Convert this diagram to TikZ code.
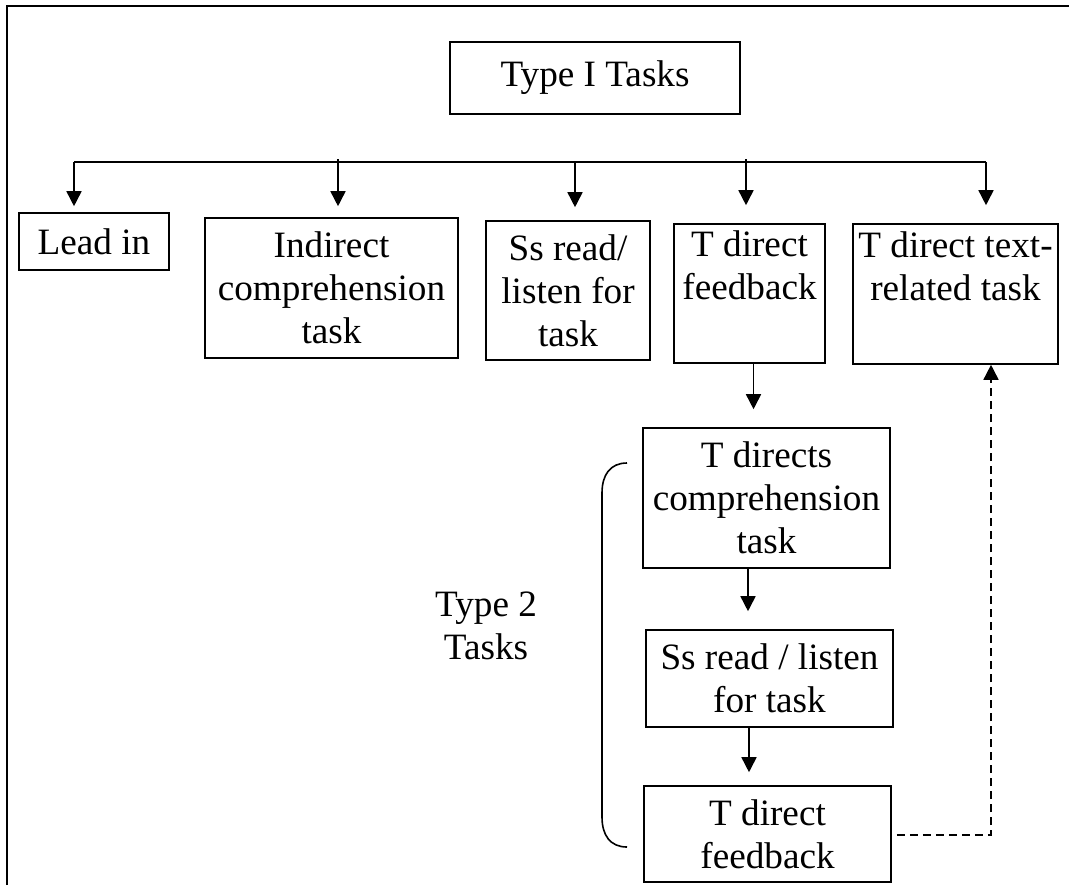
\documentclass[tikz,border=0pt]{standalone}
\usepackage{fontspec}
\setmainfont{Liberation Serif}
\usepackage{tikz}
\usetikzlibrary{arrows.meta, positioning, calc}
\newcommand{\taskfont}{\fontsize{18.6}{21.5}\selectfont}
\tikzset{every node/.append style={align=center}}
\tikzset{
  task/.style={rectangle, draw, line width=0.8pt, inner sep=0pt, font=\taskfont,
    text centered, align=center},
  arrow/.style={-{Triangle[length=7.5pt, width=7.5pt]}, line width=0.8pt},
  ctrl/.style={-{Triangle[length=7.5pt, width=7.5pt]}, line width=0.8pt,
    dash pattern=on 4pt off 2.5pt},
  lbl/.style={font=\taskfont, align=center}
}
\begin{document}
\begin{tikzpicture}[x=0.5pt, y=-0.5pt]
  \useasboundingbox (0,0) rectangle (1069,885);
  \draw[line width=1pt] (7,885) -- (7,6) -- (1069,6);
  \node[task, minimum width=145pt, minimum height=36pt] (t1) at (595,78) {Type I Tasks};
  \node[task, minimum width=75pt, minimum height=28.5pt] (lead) at (94,241.5) {Lead in};
  \node[task, minimum width=126.5pt, minimum height=70pt] (ind) at (331.5,288) {Indirect\\comprehension\\task};
  \node[task, minimum width=82pt, minimum height=69.5pt] (ss) at (568,290.5) {Ss read/\\listen for\\task};
  \node[task, minimum width=75.5pt, minimum height=69.5pt] (fb) at (749.5,293.5) {T direct\\feedback\\\strut};
  \node[task, minimum width=102.5pt, minimum height=70pt] (txt) at (955.5,294) {T direct text-\\related task\\\strut};
  \node[task, minimum width=123.5pt, minimum height=70pt] (dc) at (766.5,498) {T directs\\comprehension\\task};
  \node[task, minimum width=123.5pt, minimum height=48.5pt] (ss2) at (769.5,678.5) {Ss read / listen\\for task};
  \node[task, minimum width=123.5pt, minimum height=48pt] (fb2) at (767.5,834) {T direct\\feedback};
  \node[lbl] (t2) at (486,626) {Type 2\\Tasks};
  \coordinate (b1) at (74,162);
  \coordinate (b2) at (338,159);
  \coordinate (b3) at (575,162);
  \coordinate (b4) at (746,159);
  \coordinate (b5) at (986,162);
  \draw[line width=0.8pt] (b1) -- (b5);
  \foreach \b/\n/\s in {b1/lead/3pt, b2/ind/5.5pt, b3/ss/6.5pt, b4/fb/9pt, b5/txt/9pt}
    \draw[arrow, shorten >=\s] (\b) -- (\b |- \n.north);
  \draw[arrow, shorten >=9pt] ([xshift=2pt]fb.south) -- ([xshift=2pt]fb.south |- dc.north);
  \draw[arrow, shorten >=9pt] ([xshift=-9.25pt]dc.south) -- ([xshift=-9.25pt]dc.south |- ss2.north);
  \draw[arrow, shorten >=6.5pt] ([xshift=-10.25pt]ss2.south) -- ([xshift=-10.25pt]ss2.south |- fb2.north);
  \coordinate (ret) at (991,835);
  \draw[ctrl, shorten <=2.5pt] ([yshift=-0.5pt]fb2.east) -- (ret) -- (ret |- txt.south);
  \draw[line width=0.8pt] (627,463) .. controls (610,463) and (602,475) .. (602,493)
    -- (602,817) .. controls (602,835) and (610,847) .. (627,847);
\end{tikzpicture}
\end{document}
